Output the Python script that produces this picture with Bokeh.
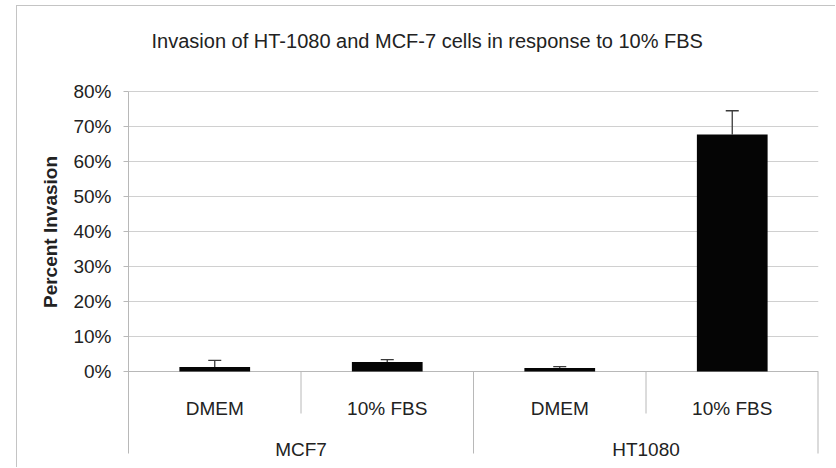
import math
from bokeh.plotting import figure
from bokeh.models import (FactorRange, Range1d, FixedTicker, NumeralTickFormatter,
                          Whisker, TeeHead, ColumnDataSource)
from bokeh.embed import file_html
from bokeh.resources import INLINE
from bokeh.core.properties import value

# ---------------- data ----------------
cell_lines = ["MCF7", "MCF7", "HT1080", "HT1080"]
treatments = ["DMEM", "10% FBS", "DMEM", "10% FBS"]
percent_invasion = [0.013, 0.027, 0.010, 0.677]
error_plus = [0.019, 0.007, 0.004, 0.068]
groups = ["MCF7", "HT1080"]
y_ticks = [0.0, 0.1, 0.2, 0.3, 0.4, 0.5, 0.6, 0.7, 0.8]
title_text = "Invasion of HT-1080 and MCF-7 cells in response to 10% FBS"
y_label_text = "Percent Invasion"

# ---------------- layout (page pixels) ----------------
PAGE_W, PAGE_H = 836, 468
OX, OY = 17, 6                      # chart border corner (canvas origin)
W, H = PAGE_W - OX, PAGE_H - OY
PLOT_L, PLOT_R = 128, 818           # category axis extent
FRAME_T, FRAME_B = 6, 457           # drawing frame (page)
TOP_TICK_Y, ZERO_Y, BOX_B = 91, 371, 453
PX_PER_UNIT_Y = (ZERO_Y - TOP_TICK_Y) / max(y_ticks)
PX_PER_CAT = (PLOT_R - PLOT_L) / len(treatments)


def dy(py):
    return max(y_ticks) - (py - TOP_TICK_Y) / PX_PER_UNIT_Y


def dx(px):
    return (px - PLOT_L) / PX_PER_CAT


FONT = "Liberation Sans"
TEXT_COLOR = "#222222"
GRID_COLOR = "#d0d0d0"
AXIS_COLOR = "#b8b8b8"
BORDER_COLOR = "#c4c4c4"

factors = list(zip(cell_lines, treatments))
x_range = FactorRange(*factors, factor_padding=0, group_padding=0,
                      subgroup_padding=0, range_padding=0)

p = figure(x_range=x_range, y_range=Range1d(dy(FRAME_B), dy(FRAME_T)),
           width=W, height=H, output_backend="svg", toolbar_location=None,
           x_axis_location=None,
           min_border_left=PLOT_L - OX, min_border_right=PAGE_W - PLOT_R,
           min_border_top=FRAME_T - OY, min_border_bottom=PAGE_H - FRAME_B)
p.styles = {"margin-left": f"{OX - 1}px", "margin-top": f"{OY - 1}px",
            "border-left": f"1px solid {BORDER_COLOR}",
            "border-top": f"1px solid {BORDER_COLOR}"}
p.outline_line_color = None
p.background_fill_color = "white"
p.border_fill_color = "white"
p.xgrid.visible = False
p.ygrid.ticker = FixedTicker(ticks=y_ticks[1:])
p.ygrid.grid_line_color = GRID_COLOR
p.ygrid.grid_line_width = 1

ax = p.yaxis[0]
ax.ticker = FixedTicker(ticks=y_ticks)
ax.bounds = (dy(BOX_B), max(y_ticks))
ax.formatter = NumeralTickFormatter(format="0%")
ax.major_tick_in = 0
ax.major_tick_out = 5
ax.minor_tick_line_color = None
ax.axis_line_color = AXIS_COLOR
ax.major_tick_line_color = AXIS_COLOR
ax.major_label_standoff = 12
ax.major_label_text_font = FONT
ax.major_label_text_font_size = "19px"
ax.major_label_text_color = TEXT_COLOR
ax.axis_label = y_label_text
ax.axis_label_text_font = FONT
ax.axis_label_text_font_size = "19px"
ax.axis_label_text_font_style = "bold"
ax.axis_label_text_color = TEXT_COLOR
ax.axis_label_standoff = 9

n = len(factors)
# category axis line and dividers
p.segment(x0=[0], y0=[0], x1=[n], y1=[0], line_color=AXIS_COLOR, line_width=1)
inner = [i for i in range(1, n) if i % 2 == 1]
p.segment(x0=inner, y0=[0] * len(inner), x1=inner, y1=[dy(413)] * len(inner),
          line_color=AXIS_COLOR, line_width=1)
outer = [i for i in range(2, n + 1, 2)]
p.segment(x0=outer, y0=[0] * len(outer), x1=outer, y1=[dy(BOX_B)] * len(outer),
          line_color=AXIS_COLOR, line_width=[1] * (len(outer) - 1) + [2])

src = ColumnDataSource(dict(
    x=factors, top=percent_invasion,
    upper=[v + e for v, e in zip(percent_invasion, error_plus)],
))
p.vbar(x="x", top="top", bottom=0, width=0.41, source=src,
       fill_color="#050505", line_color=None)

whisk = Whisker(base="x", lower="top", upper="upper", source=src,
                line_color="#3a3a3a", line_width=1.3,
                upper_head=TeeHead(size=13, line_color="#3a3a3a", line_width=1.3),
                lower_head=None)
p.add_layout(whisk)

# category labels
p.text(x=factors, y=[dy(408.3)] * n, text=treatments,
       text_font=value(FONT), text_font_size=value("19px"), text_color=TEXT_COLOR,
       text_align="center", text_baseline="alphabetic")
p.text(x=groups, y=[dy(448.6)] * len(groups), text=groups,
       text_font=value(FONT), text_font_size=value("19px"), text_color=TEXT_COLOR,
       text_align="center", text_baseline="alphabetic")

# chart title
p.text(x=[dx(426.7)], y=[dy(40)], text=[title_text],
       text_font=value(FONT), text_font_size=value("20px"), text_color=TEXT_COLOR,
       text_align="center", text_baseline="alphabetic")

open("out.html", "w").write(file_html(p, INLINE))
